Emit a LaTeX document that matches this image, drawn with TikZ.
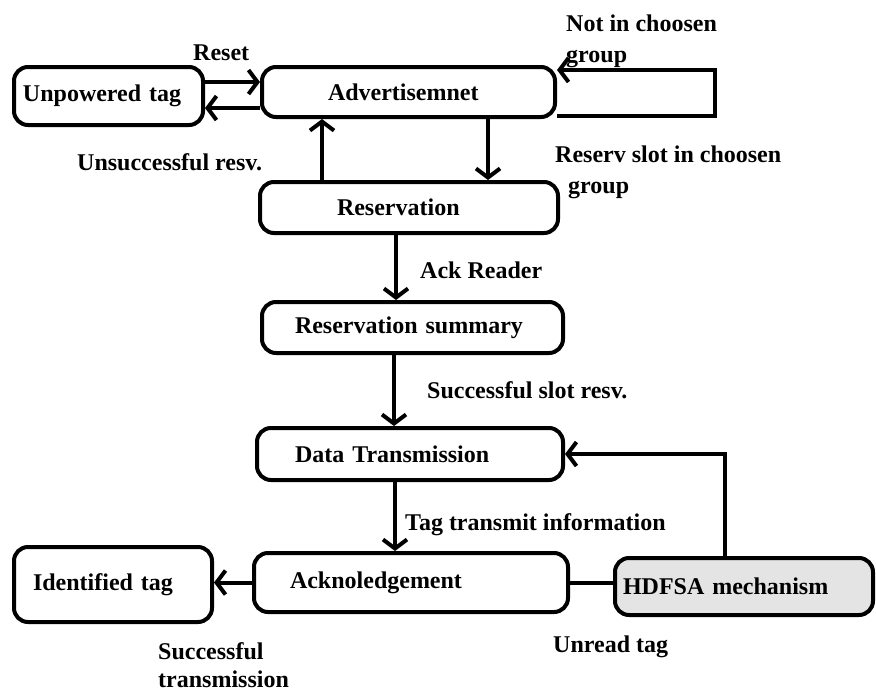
\documentclass[tikz,border=0pt]{standalone}
\usepackage{fontspec}
\setmainfont{Liberation Serif}
\usetikzlibrary{arrows.meta}
\definecolor{hdgray}{HTML}{E4E4E4}
\begin{document}
\begin{tikzpicture}[x=1pt,y=-1pt,
  every node/.style={font=\fontsize{24}{28}\selectfont\bfseries},
  box/.style={draw, line width=4pt, rounded corners=14pt, inner ysep=0pt, align=left, anchor=center},
  lbl/.style={anchor=base west, inner sep=0pt},
  arr/.style={line width=4pt, -{Straight Barb[length=9pt,width=24pt]}},
  ln/.style={line width=4pt}]
\useasboundingbox (0,0) rectangle (876,694);
% boxes: width = text width + 2 inner xsep
\node[box, minimum height=58pt, inner xsep=9pt, text width=171pt] (unp) at (108.5,96) {Unpowered tag};
\node[box, minimum height=50pt, inner xsep=66pt, text width=161pt] (adv) at (408.5,92) {Advertisemnet};
\node[box, minimum height=51pt, inner xsep=77pt, text width=144pt] (res) at (409,207.5) {Reservation};
\node[box, minimum height=51pt, inner xsep=33pt, text width=235pt] (sum) at (412.5,327.5) {Reservation summary};
\node[box, minimum height=52pt, inner xsep=38pt, text width=230pt] (dt) at (410,454) {Data Transmission};
\node[box, minimum height=59pt, inner xsep=36pt, text width=242pt] (ack) at (411,582.5) {Acknoledgement};
\node[box, minimum height=75pt, inner xsep=19pt, text width=160pt] (idt) at (113,584.5) {Identified tag};
\node[box, fill=hdgray, minimum height=57pt, inner xsep=8pt, text width=242pt] (hd) at (744,586.5) {HDFSA mechanism};
% loop coordinates
\coordinate (lp1) at (715,116);
\coordinate (lp2) at (715,70);
% connectors
\draw[arr] (unp.east |- 0,82) -- (adv.west |- 0,82);
\draw[arr] (adv.west |- 0,108) -- (unp.east |- 0,108);
\draw[arr] (res.north -| 322,0) -- (adv.south -| 322,0);
\draw[arr] (adv.south -| 488,0) -- (res.north -| 488,0);
\draw[arr] (adv.east |- lp1) -- (lp1) -- (lp2) -- (adv.east |- lp2);
\draw[arr] (res.south -| 396,0) -- (sum.north -| 396,0);
\draw[arr] (sum.south -| 394,0) -- (dt.north -| 394,0);
\draw[arr] (dt.south -| 395,0) -- (ack.north -| 395,0);
\draw[arr] (ack.west) -- (ack.west -| idt.east);
\draw[ln] (ack.east) -- (ack.east -| hd.west);
\draw[arr] (hd.north -| 725,0) |- (dt.east);
% labels
\node[lbl] (lreset) at (193,60) {Reset};
\node[lbl] (lunsucc) at (77,170) {Unsuccessful resv.};
\node[lbl] (lnot1) at (566,31) {Not in choosen};
\node[lbl] (lnot2) at (566,62) {group};
\node[lbl] (lrsv1) at (555,162) {Reserv slot in choosen};
\node[lbl] (lrsv2) at (568,193) {group};
\node[lbl] (lack) at (420,278) {Ack Reader};
\node[lbl] (lsucc) at (427,398) {Successful slot resv.};
\node[lbl] (ltag) at (405,530) {Tag transmit information};
\node[lbl] (lunread) at (553,652) {Unread tag};
\node[lbl] (lst1) at (158,659) {Successful};
\node[lbl] (lst2) at (158,687) {transmission};
\end{tikzpicture}
\end{document}
